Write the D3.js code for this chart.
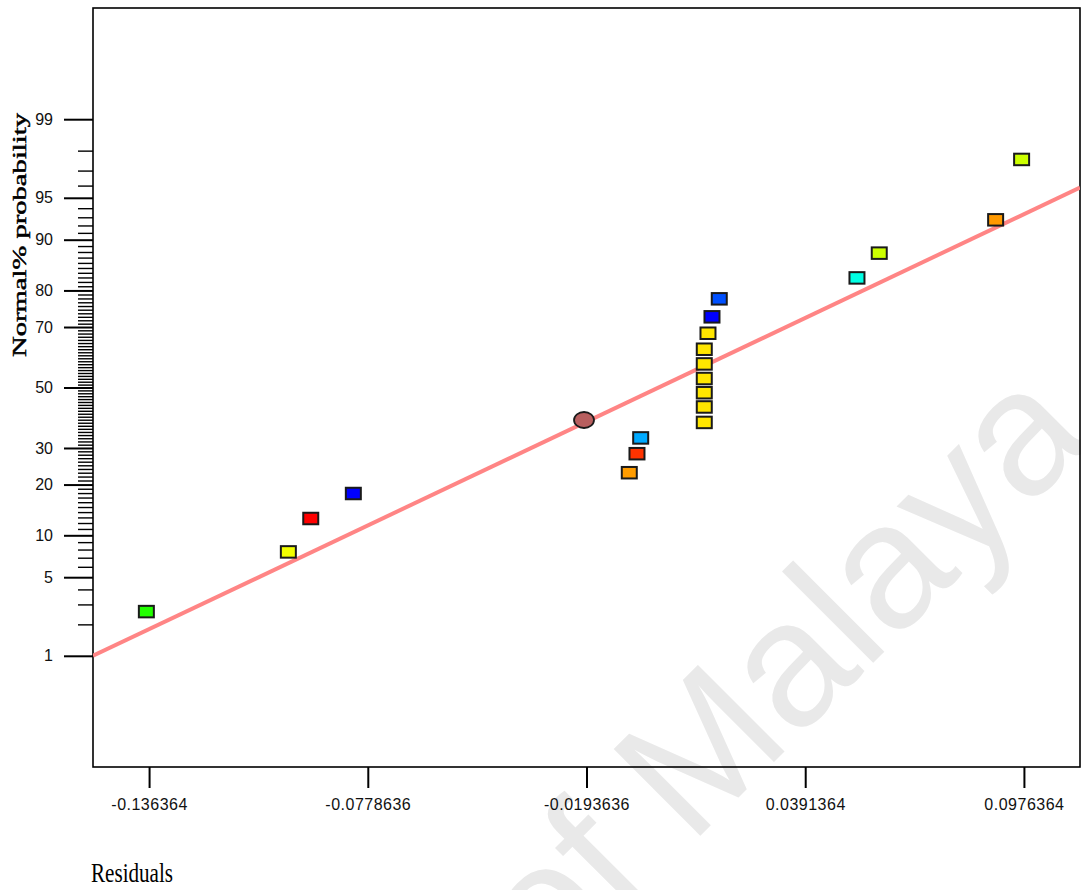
<!DOCTYPE html>
<html>
<head>
<meta charset="utf-8">
<script src="https://cdn.jsdelivr.net/npm/d3@7"></script>
<style>
  body { margin: 0; background: #fff; }
  svg { display: block; }
</style>
</head>
<body>
<div id="chart"></div>
<script>
// Data
const xTickValues = [-0.136364, -0.0778636, -0.0193636, 0.0391364, 0.0976364];
const xTickLabels = ['-0.136364', '-0.0778636', '-0.0193636', '0.0391364', '0.0976364'];
const yMajorTicks = [1, 5, 10, 20, 30, 50, 70, 80, 90, 95, 99];

// residuals and their normal % probability (square markers)
const residuals = [
  -0.13709, -0.09911, -0.09312, -0.08173, -0.00792, -0.00586, -0.00487,
  0.01214, 0.01214, 0.01214, 0.01214, 0.01214, 0.01214,
  0.01313, 0.01420, 0.01615, 0.05298, 0.05894, 0.09007, 0.09702,
];
const probabilities = [
  2.6, 7.7, 12.8, 17.9, 23.0, 28.3, 33.1,
  38.1, 43.3, 48.2, 53.1, 58.1, 63.0,
  68.1, 73.0, 77.9, 82.9, 87.8, 92.7, 97.6,
];
const pointColors = [
  '#22ff00', '#f2ff00', '#ff0000', '#0000ff', '#ff9c00', '#ff3300', '#00aaff',
  '#ffe600', '#ffe600', '#ffe600', '#ffe600', '#ffe600', '#ffe600',
  '#ffe600', '#0000ff', '#0050ff', '#00ffe4', '#ccff00', '#ff9900', '#ccff00',
];

// round marker
const circleResidual = [-0.02003];
const circleProbability = [38.9];

// fitted normal line (end points)
const fitResiduals = [-0.15136, 0.11264];
const fitProbabilities = [1.0, 95.85];

// inverse normal cdf (Acklam)
function probit(p) {
  const a = [-39.69683028665376, 220.9460984245205, -275.9285104469687, 138.3577518672690, -30.66479806614716, 2.506628277459239];
  const b = [-54.47609879822406, 161.5858368580409, -155.6989798598866, 66.80131188771972, -13.28068155288572];
  const c = [-0.007784894002430293, -0.3223964580411365, -2.400758277161838, -2.549732539343734, 4.374664141464968, 2.938163982698783];
  const d = [0.007784695709041462, 0.3224671290700398, 2.445134137142996, 3.754408661907416];
  const pl = 0.02425;
  let q;
  if (p < pl) {
    q = Math.sqrt(-2 * Math.log(p));
    return (((((c[0] * q + c[1]) * q + c[2]) * q + c[3]) * q + c[4]) * q + c[5])
      / ((((d[0] * q + d[1]) * q + d[2]) * q + d[3]) * q + 1);
  }
  if (p > 1 - pl) {
    q = Math.sqrt(-2 * Math.log(1 - p));
    return -(((((c[0] * q + c[1]) * q + c[2]) * q + c[3]) * q + c[4]) * q + c[5])
      / ((((d[0] * q + d[1]) * q + d[2]) * q + d[3]) * q + 1);
  }
  q = p - 0.5;
  const r = q * q;
  return (((((a[0] * r + a[1]) * r + a[2]) * r + a[3]) * r + a[4]) * r + a[5]) * q
    / (((((b[0] * r + b[1]) * r + b[2]) * r + b[3]) * r + b[4]) * r + 1);
}

const width = 1081;
const height = 890;
const plot = { l: 93, r: 1080, t: 8, b: 767 };

const xScale = d3.scaleLinear()
  .domain([xTickValues[0] - 0.015, xTickValues[xTickValues.length - 1] + 0.015])
  .range([plot.l, plot.r]);
// probability axis is linear in z
const zScale = d3.scaleLinear()
  .domain([probit(0.0005), probit(0.9995)])
  .range([plot.b, plot.t]);
const yScale = (p) => zScale(probit(p / 100));

const svg = d3.select('#chart')
  .append('svg')
  .attr('width', width)
  .attr('height', height)
  .style('background', '#fff');

// watermark
const wm = svg.append('g')
  .attr('transform', 'translate(690,846) rotate(-45)')
  .style('font-family', '"Liberation Sans", Arial, sans-serif')
  .style('font-size', '178px')
  .attr('fill', '#e9e9e9');
wm.append('text').attr('x', -50).attr('text-anchor', 'end').text('University of');
wm.append('text').attr('x', 0).attr('text-anchor', 'start').text('Malaya');

svg.append('clipPath')
  .attr('id', 'plot-clip')
  .append('rect')
  .attr('x', plot.l)
  .attr('y', plot.t)
  .attr('width', plot.r - plot.l)
  .attr('height', plot.b - plot.t);

// minor ticks every 1%
const minorTicks = d3.range(1, 100).filter((p) => !yMajorTicks.includes(p));
svg.append('g')
  .attr('transform', `translate(${plot.l},0)`)
  .call(d3.axisLeft(zScale)
    .tickValues(minorTicks.map((p) => probit(p / 100)))
    .tickSize(15)
    .tickFormat(''))
  .call((g) => g.select('.domain').remove())
  .selectAll('line')
  .attr('stroke', '#000')
  .attr('stroke-width', 1.4);

// major ticks
svg.append('g')
  .attr('transform', `translate(${plot.l},0)`)
  .call(d3.axisLeft(zScale)
    .tickValues(yMajorTicks.map((p) => probit(p / 100)))
    .tickSize(29)
    .tickPadding(11)
    .tickFormat((d, i) => yMajorTicks[i]))
  .call((g) => g.select('.domain').remove())
  .call((g) => g.selectAll('line').attr('stroke', '#000').attr('stroke-width', 2))
  .selectAll('text')
  .attr('fill', '#111')
  .style('font-family', '"Liberation Sans", Arial, sans-serif')
  .style('font-size', '16px');

// x axis
svg.append('g')
  .attr('transform', `translate(0,${plot.b})`)
  .call(d3.axisBottom(xScale)
    .tickValues(xTickValues)
    .tickSize(21)
    .tickPadding(11)
    .tickFormat((d, i) => xTickLabels[i]))
  .call((g) => g.select('.domain').remove())
  .call((g) => g.selectAll('line').attr('stroke', '#000').attr('stroke-width', 2))
  .selectAll('text')
  .attr('fill', '#111')
  .style('font-family', '"Liberation Sans", Arial, sans-serif')
  .style('font-size', '16px')
  .style('letter-spacing', '0.5px');

// frame
svg.append('rect')
  .attr('x', plot.l)
  .attr('y', plot.t)
  .attr('width', plot.r - plot.l)
  .attr('height', plot.b - plot.t)
  .attr('fill', 'none')
  .attr('stroke', '#000')
  .attr('stroke-width', 1.6);

// fitted line
const line = d3.line()
  .x((d) => xScale(d[0]))
  .y((d) => yScale(d[1]));
svg.append('path')
  .datum(d3.zip(fitResiduals, fitProbabilities))
  .attr('clip-path', 'url(#plot-clip)')
  .attr('d', line)
  .attr('fill', 'none')
  .attr('stroke', '#ff8585')
  .attr('stroke-width', 4);

// square markers
const boxW = 15;
const boxH = 11.5;
svg.append('g')
  .selectAll('rect')
  .data(d3.zip(residuals, probabilities, pointColors))
  .join('rect')
  .attr('x', (d) => xScale(d[0]) - boxW / 2)
  .attr('y', (d) => yScale(d[1]) - boxH / 2)
  .attr('width', boxW)
  .attr('height', boxH)
  .attr('fill', (d) => d[2])
  .attr('stroke', '#1a1a1a')
  .attr('stroke-width', 2);

// round marker
svg.append('g')
  .selectAll('ellipse')
  .data(d3.zip(circleResidual, circleProbability))
  .join('ellipse')
  .attr('cx', (d) => xScale(d[0]))
  .attr('cy', (d) => yScale(d[1]))
  .attr('rx', 10)
  .attr('ry', 8)
  .attr('fill', '#b85f5f')
  .attr('stroke', '#1a1a1a')
  .attr('stroke-width', 1.8);

// axis names
svg.append('text')
  .attr('transform', 'translate(26,235) rotate(-90)')
  .attr('text-anchor', 'middle')
  .attr('textLength', 244)
  .attr('lengthAdjust', 'spacingAndGlyphs')
  .style('font-family', '"Liberation Serif", "Times New Roman", serif')
  .style('font-size', '18px')
  .attr('stroke', '#000')
  .attr('stroke-width', 0.45)
  .text('Normal% probability');

svg.append('text')
  .attr('x', 91)
  .attr('y', 882)
  .attr('textLength', 82)
  .attr('lengthAdjust', 'spacingAndGlyphs')
  .style('font-family', '"Liberation Serif", "Times New Roman", serif')
  .style('font-size', '27px')
  .text('Residuals');
</script>
</body>
</html>
